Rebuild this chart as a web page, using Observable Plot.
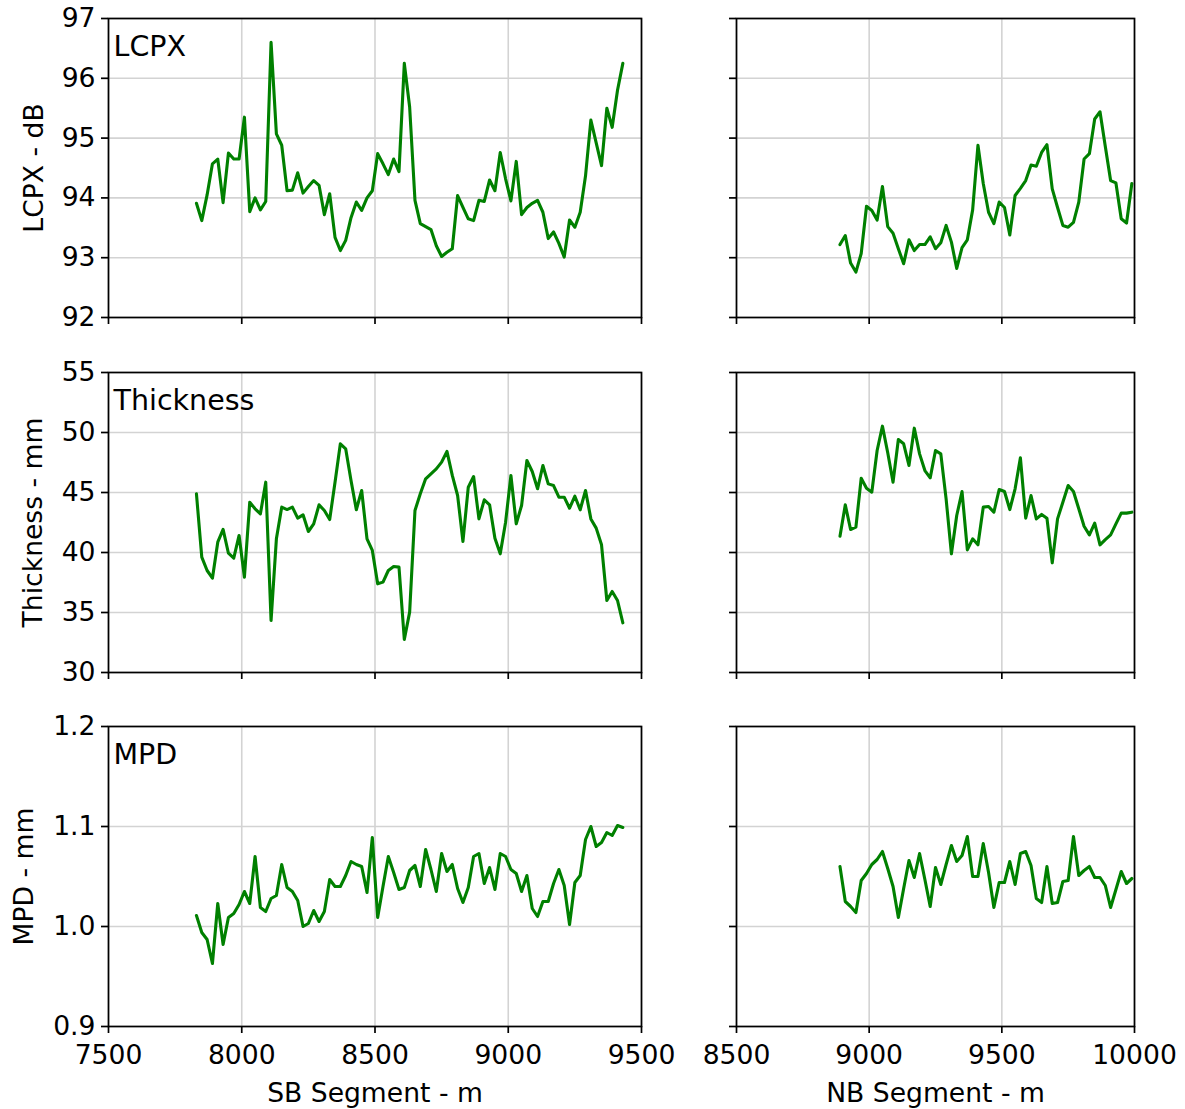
<!DOCTYPE html>
<html>
<head>
<meta charset="utf-8">
<script src="https://cdn.jsdelivr.net/npm/d3@7"></script>
<script src="https://cdn.jsdelivr.net/npm/@observablehq/plot@0.6"></script>
<style>
  body { margin: 0; background: #fff; }
  #fig { position: relative; width: 1185px; height: 1109px; background: #fff; font-family: "DejaVu Sans", sans-serif; }
  #fig svg { position: absolute; overflow: visible; }
</style>
</head>
<body>
<div id="fig"></div>
<script>
// ---- Data ----
const sbX = [7830,7850,7870,7890,7910,7930,7950,7970,7990,8010,
  8030,8050,8070,8090,8110,8130,8150,8170,8190,8210,
  8230,8250,8270,8290,8310,8330,8350,8370,8390,8410,
  8430,8450,8470,8490,8510,8530,8550,8570,8590,8610,
  8630,8650,8670,8690,8710,8730,8750,8770,8790,8810,
  8830,8850,8870,8890,8910,8930,8950,8970,8990,9010,
  9030,9050,9070,9090,9110,9130,9150,9170,9190,9210,
  9230,9250,9270,9290,9310,9330,9350,9370,9390,9410,
  9430];
const nbX = [8890,8910,8930,8950,8970,8990,9010,9030,9050,9070,
  9090,9110,9130,9150,9170,9190,9210,9230,9250,9270,
  9290,9310,9330,9350,9370,9390,9410,9430,9450,9470,
  9490,9510,9530,9550,9570,9590,9610,9630,9650,9670,
  9690,9710,9730,9750,9770,9790,9810,9830,9850,9870,
  9890,9910,9930,9950,9970,9990];

const lcpxSB = [93.91,93.62,94.05,94.57,94.65,93.92,94.75,94.65,94.65,95.35,
  93.77,94.0,93.8,93.94,96.6,95.07,94.88,94.12,94.13,94.42,
  94.08,94.19,94.29,94.21,93.72,94.07,93.34,93.12,93.29,93.67,
  93.93,93.79,94.0,94.12,94.74,94.57,94.39,94.65,94.44,96.25,
  95.52,93.96,93.57,93.52,93.47,93.2,93.02,93.09,93.15,94.04,
  93.84,93.65,93.62,93.96,93.94,94.3,94.12,94.76,94.32,93.95,
  94.61,93.72,93.84,93.91,93.96,93.76,93.32,93.43,93.24,93.01,
  93.63,93.51,93.76,94.37,95.3,94.92,94.54,95.5,95.18,95.8,
  96.25];
const lcpxNB = [93.22,93.37,92.91,92.76,93.07,93.86,93.79,93.63,94.19,93.52,
  93.41,93.15,92.9,93.3,93.12,93.22,93.22,93.35,93.15,93.25,
  93.54,93.26,92.82,93.17,93.3,93.8,94.88,94.24,93.76,93.57,
  93.93,93.84,93.38,94.04,94.16,94.29,94.55,94.53,94.76,94.89,
  94.15,93.84,93.54,93.51,93.59,93.93,94.65,94.74,95.32,95.44,
  94.86,94.29,94.25,93.65,93.58,94.24];

const thickSB = [44.89,39.61,38.5,37.86,40.86,41.92,39.94,39.53,41.42,37.94,
  44.19,43.64,43.22,45.86,34.33,41.14,43.78,43.58,43.78,42.86,
  43.14,41.75,42.39,43.97,43.5,42.75,45.86,49.06,48.64,46.0,
  43.56,45.17,41.14,40.17,37.39,37.53,38.5,38.83,38.78,32.75,
  35.03,43.5,44.89,46.14,46.56,46.97,47.53,48.42,46.42,44.75,
  40.92,45.44,46.33,42.8,44.39,43.97,41.19,39.89,42.53,46.42,
  42.39,43.92,47.67,46.75,45.31,47.25,45.72,45.58,44.61,44.61,
  43.69,44.69,43.56,45.17,42.8,42.03,40.64,36.0,36.75,36.0,
  34.14];
const thickNB = [41.36,43.97,41.92,42.11,46.19,45.36,45.03,48.5,50.53,48.31,
  45.86,49.42,49.06,47.25,50.36,48.22,46.83,46.22,48.5,48.22,
  44.47,39.89,43.08,45.08,40.22,41.14,40.64,43.78,43.83,43.36,
  45.25,45.08,43.58,45.31,47.89,42.86,44.75,42.8,43.17,42.86,
  39.14,42.8,44.19,45.58,45.08,43.64,42.19,41.47,42.44,40.64,
  41.08,41.47,42.39,43.28,43.28,43.36];

const mpdSB = [1.011,0.994,0.987,0.963,1.023,0.982,1.009,1.013,1.022,1.035,
  1.023,1.07,1.019,1.015,1.028,1.031,1.062,1.039,1.035,1.026,
  1.0,1.003,1.016,1.005,1.015,1.047,1.04,1.04,1.051,1.065,
  1.062,1.06,1.034,1.089,1.009,1.04,1.07,1.054,1.037,1.039,
  1.056,1.061,1.04,1.077,1.057,1.035,1.073,1.055,1.062,1.038,
  1.024,1.039,1.07,1.073,1.043,1.059,1.037,1.073,1.07,1.057,
  1.053,1.035,1.051,1.018,1.01,1.025,1.025,1.043,1.057,1.041,
  1.002,1.044,1.051,1.087,1.1,1.08,1.084,1.094,1.091,1.101,
  1.099];
const mpdNB = [1.06,1.025,1.02,1.014,1.046,1.053,1.062,1.067,1.075,1.058,
  1.04,1.009,1.038,1.066,1.049,1.073,1.047,1.02,1.059,1.042,
  1.062,1.081,1.065,1.071,1.09,1.05,1.05,1.083,1.054,1.019,
  1.044,1.044,1.065,1.042,1.073,1.075,1.061,1.028,1.024,1.06,
  1.023,1.024,1.045,1.046,1.09,1.051,1.056,1.06,1.049,1.049,
  1.041,1.019,1.037,1.055,1.043,1.048];

const sbTicks = [7500, 8000, 8500, 9000, 9500];
const nbTicks = [8500, 9000, 9500, 10000];
const lcpxTicks = [92, 93, 94, 95, 96, 97];
const thickTicks = [30, 35, 40, 45, 50, 55];
const mpdTicks = [0.9, 1.0, 1.1, 1.2];

const panelTitles = ["LCPX", "Thickness", "MPD"];
const yLabels = ["LCPX - dB", "Thickness - mm", "MPD - mm"];
const xLabels = ["SB Segment - m", "NB Segment - m"];

// ---- Drawing ----
const FS = 26.6;
const fig = document.getElementById("fig");

function panel(o) {
  const data = o.xs.map((x, i) => ({x, y: o.ys[i]}));
  const marks = [
    Plot.gridX({ticks: o.xTicks, stroke: "#d3d3d3", strokeOpacity: 1, strokeWidth: 1.6}),
    Plot.gridY({ticks: o.yTicks, stroke: "#d3d3d3", strokeOpacity: 1, strokeWidth: 1.6}),
    Plot.line(data, {x: "x", y: "y", stroke: "#008000", strokeWidth: 3.1}),
    Plot.frame({stroke: "black", strokeWidth: 1.7}),
    Plot.axisY({ticks: o.yTicks, tickSize: 7, tickPadding: 6, strokeWidth: 1.7, color: "black",
      fontSize: FS, label: null,
      tickFormat: o.showY ? o.yFmt : () => ""}),
    Plot.axisX({ticks: o.xTicks, tickSize: 7, tickPadding: 12, strokeWidth: 1.7, color: "black",
      fontSize: FS, label: null,
      tickFormat: o.showX ? d3.format("d") : () => ""})
  ];
  if (o.title) marks.push(Plot.text([o.title], {frameAnchor: "top-left", dx: 5, dy: 17,
    textAnchor: "start", lineAnchor: "top", fontSize: 28.5, fill: "black"}));
  if (o.yLabel) marks.push(Plot.text([o.yLabel], {frameAnchor: "left", rotate: -90, dx: o.yLabelDx,
    textAnchor: "middle", lineAnchor: "middle", fontSize: FS, fill: "black"}));
  if (o.xLabel) marks.push(Plot.text([o.xLabel], {frameAnchor: "bottom", dy: 67,
    textAnchor: "middle", lineAnchor: "middle", fontSize: FS, fill: "black"}));
  const svg = Plot.plot({
    width: o.width, height: o.height,
    marginLeft: o.mL, marginRight: o.mR, marginTop: o.mT, marginBottom: o.mB,
    x: {domain: o.xDomain},
    y: {domain: o.yDomain},
    style: {fontFamily: "DejaVu Sans, sans-serif", fontSize: FS + "px", color: "black",
      background: "transparent", overflow: "visible"},
    marks
  });
  svg.style.left = o.left + "px";
  svg.style.top = o.top + "px";
  fig.appendChild(svg);
}

const rows = [
  {sb: lcpxSB, nb: lcpxNB, yDomain: [92, 97], yTicks: lcpxTicks, yFmt: d3.format("d"), top: 0, height: 340, mB: 23, dx: -74},
  {sb: thickSB, nb: thickNB, yDomain: [30, 55], yTicks: thickTicks, yFmt: d3.format("d"), top: 354, height: 340, mB: 22, dx: -75},
  {sb: mpdSB, nb: mpdNB, yDomain: [0.9, 1.2], yTicks: mpdTicks, yFmt: d3.format(".1f"), top: 708, height: 401, mB: 83, dx: -84}
];

rows.forEach((r, i) => {
  const last = i === rows.length - 1;
  panel({xs: sbX, ys: r.sb, xDomain: [7500, 9500], xTicks: sbTicks, yDomain: r.yDomain, yTicks: r.yTicks,
    yFmt: r.yFmt, showY: true, showX: last, title: panelTitles[i], yLabel: yLabels[i], yLabelDx: r.dx,
    xLabel: last ? xLabels[0] : null,
    left: 0, top: r.top, width: 660, height: r.height, mL: 108, mR: 19, mT: 18, mB: r.mB});
  panel({xs: nbX, ys: r.nb, xDomain: [8500, 10000], xTicks: nbTicks, yDomain: r.yDomain, yTicks: r.yTicks,
    yFmt: r.yFmt, showY: false, showX: last, title: null, yLabel: null,
    xLabel: last ? xLabels[1] : null,
    left: 700, top: r.top, width: 485, height: r.height, mL: 36, mR: 51, mT: 18, mB: r.mB});
});
</script>
</body>
</html>
